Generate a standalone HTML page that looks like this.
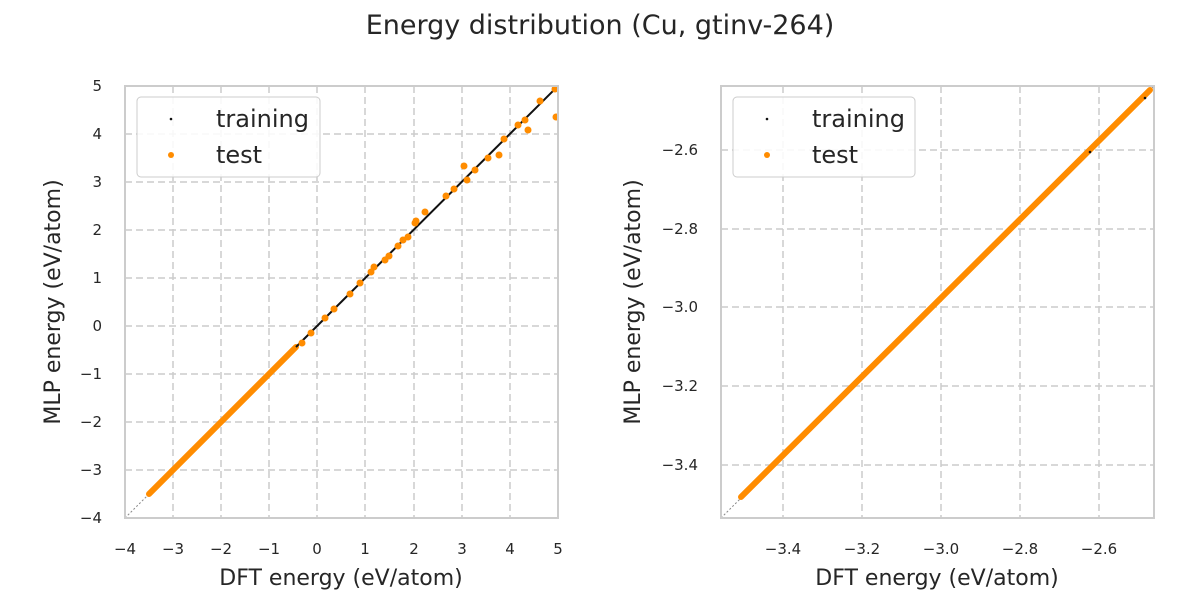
<!DOCTYPE html>
<html><head><meta charset="utf-8"><style>
body{margin:0;background:#fff;width:1200px;height:600px;overflow:hidden}
svg text{font-family:"DejaVu Sans","Liberation Sans",sans-serif;fill:#262626}
</style></head><body>
<svg width="1200" height="600" xmlns="http://www.w3.org/2000/svg">
<text x="600" y="34" font-size="27" text-anchor="middle">Energy distribution (Cu, gtinv-264)</text>
<defs><clipPath id="c1"><rect x="125" y="86" width="433" height="432"/></clipPath>
<clipPath id="c2"><rect x="721" y="86" width="433" height="432"/></clipPath></defs>
<g stroke="#cccccc" stroke-width="1.5" stroke-dasharray="7,4">
<line x1="173" y1="86" x2="173" y2="518"/><line x1="221" y1="86" x2="221" y2="518"/><line x1="269" y1="86" x2="269" y2="518"/><line x1="317" y1="86" x2="317" y2="518"/><line x1="365" y1="86" x2="365" y2="518"/><line x1="414" y1="86" x2="414" y2="518"/><line x1="462" y1="86" x2="462" y2="518"/><line x1="510" y1="86" x2="510" y2="518"/>
<line x1="125" y1="134" x2="558" y2="134"/><line x1="125" y1="182" x2="558" y2="182"/><line x1="125" y1="230" x2="558" y2="230"/><line x1="125" y1="278" x2="558" y2="278"/><line x1="125" y1="326" x2="558" y2="326"/><line x1="125" y1="374" x2="558" y2="374"/><line x1="125" y1="422" x2="558" y2="422"/><line x1="125" y1="470" x2="558" y2="470"/>
</g>
<g clip-path="url(#c1)">
<line x1="125" y1="518" x2="558" y2="86" stroke="#888" stroke-width="1" stroke-dasharray="2,2"/>
<line x1="149" y1="494" x2="296" y2="347" stroke="#ff8c00" stroke-width="6" stroke-linecap="round"/>
<line x1="296" y1="347" x2="558" y2="86" stroke="#111" stroke-width="2"/>
<g fill="#ff8c00">
<circle cx="302" cy="343" r="3.5"/><circle cx="311" cy="333" r="3.5"/><circle cx="325" cy="318" r="3.5"/><circle cx="334" cy="309" r="3.5"/><circle cx="350" cy="294" r="3.5"/><circle cx="360" cy="283" r="3.5"/><circle cx="371" cy="272" r="3.5"/><circle cx="374" cy="267" r="3.5"/><circle cx="385" cy="260" r="3.5"/><circle cx="389" cy="256" r="3.5"/><circle cx="398" cy="246" r="3.5"/><circle cx="403" cy="240" r="3.5"/><circle cx="408" cy="237" r="3.5"/><circle cx="415" cy="223" r="3.5"/><circle cx="416" cy="221" r="3.5"/><circle cx="425" cy="212" r="3.5"/><circle cx="446" cy="196" r="3.5"/><circle cx="454" cy="189" r="3.5"/><circle cx="464" cy="166" r="3.5"/><circle cx="467" cy="180" r="3.5"/><circle cx="475" cy="170" r="3.5"/><circle cx="488" cy="158" r="3.5"/><circle cx="499" cy="155" r="3.5"/><circle cx="504" cy="139" r="3.5"/><circle cx="518" cy="125" r="3.5"/><circle cx="528" cy="130" r="3.5"/><circle cx="525" cy="120" r="3.5"/><circle cx="540" cy="101" r="3.5"/><circle cx="556" cy="117" r="3.5"/><circle cx="555" cy="89" r="3.5"/>
</g></g>
<rect x="125" y="86" width="433" height="432" fill="none" stroke="#ccc" stroke-width="2"/>
<g font-size="15" text-anchor="middle">
<text x="125" y="554">−4</text><text x="173" y="554">−3</text><text x="221" y="554">−2</text><text x="269" y="554">−1</text><text x="317" y="554">0</text><text x="365" y="554">1</text><text x="414" y="554">2</text><text x="462" y="554">3</text><text x="510" y="554">4</text><text x="558" y="554">5</text>
</g>
<g font-size="15" text-anchor="end">
<text x="102" y="91">5</text><text x="102" y="139">4</text><text x="102" y="187">3</text><text x="102" y="235">2</text><text x="102" y="283">1</text><text x="102" y="331">0</text><text x="102" y="379">−1</text><text x="102" y="427">−2</text><text x="102" y="475">−3</text><text x="102" y="523">−4</text>
</g>
<text x="341" y="585" font-size="22" text-anchor="middle">DFT energy (eV/atom)</text>
<text transform="translate(60,302) rotate(-90)" font-size="22" text-anchor="middle">MLP energy (eV/atom)</text>
<rect x="137" y="97" width="183" height="80" rx="4" fill="#fff" fill-opacity="0.85" stroke="#ccc"/>
<circle cx="171" cy="119" r="1.3" fill="#111"/><circle cx="171" cy="155" r="3" fill="#ff8c00"/>
<text x="216" y="127" font-size="24">training</text><text x="216" y="163" font-size="24">test</text>

<g stroke="#cccccc" stroke-width="1.5" stroke-dasharray="7,4">
<line x1="783" y1="86" x2="783" y2="518"/><line x1="862" y1="86" x2="862" y2="518"/><line x1="941" y1="86" x2="941" y2="518"/><line x1="1020" y1="86" x2="1020" y2="518"/><line x1="1099" y1="86" x2="1099" y2="518"/>
<line x1="721" y1="150" x2="1154" y2="150"/><line x1="721" y1="229" x2="1154" y2="229"/><line x1="721" y1="307" x2="1154" y2="307"/><line x1="721" y1="386" x2="1154" y2="386"/><line x1="721" y1="465" x2="1154" y2="465"/>
</g>
<g clip-path="url(#c2)">
<line x1="721" y1="518" x2="1154" y2="86" stroke="#888" stroke-width="1" stroke-dasharray="2,2"/>
<line x1="741" y1="497" x2="1150" y2="90" stroke="#ff8c00" stroke-width="6" stroke-linecap="round"/>
<circle cx="1090" cy="152" r="1.3" fill="#111"/><circle cx="1145" cy="98" r="1.3" fill="#111"/>
</g>
<rect x="721" y="86" width="433" height="432" fill="none" stroke="#ccc" stroke-width="2"/>
<g font-size="15" text-anchor="middle">
<text x="783" y="554">−3.4</text><text x="862" y="554">−3.2</text><text x="941" y="554">−3.0</text><text x="1020" y="554">−2.8</text><text x="1099" y="554">−2.6</text>
</g>
<g font-size="15" text-anchor="end">
<text x="698" y="155">−2.6</text><text x="698" y="234">−2.8</text><text x="698" y="312">−3.0</text><text x="698" y="391">−3.2</text><text x="698" y="470">−3.4</text>
</g>
<text x="937" y="585" font-size="22" text-anchor="middle">DFT energy (eV/atom)</text>
<text transform="translate(640,302) rotate(-90)" font-size="22" text-anchor="middle">MLP energy (eV/atom)</text>
<rect x="733" y="97" width="182" height="80" rx="4" fill="#fff" fill-opacity="0.85" stroke="#ccc"/>
<circle cx="767" cy="119" r="1.3" fill="#111"/><circle cx="767" cy="155" r="3" fill="#ff8c00"/>
<text x="812" y="127" font-size="24">training</text><text x="812" y="163" font-size="24">test</text>
</svg>
</body></html>
